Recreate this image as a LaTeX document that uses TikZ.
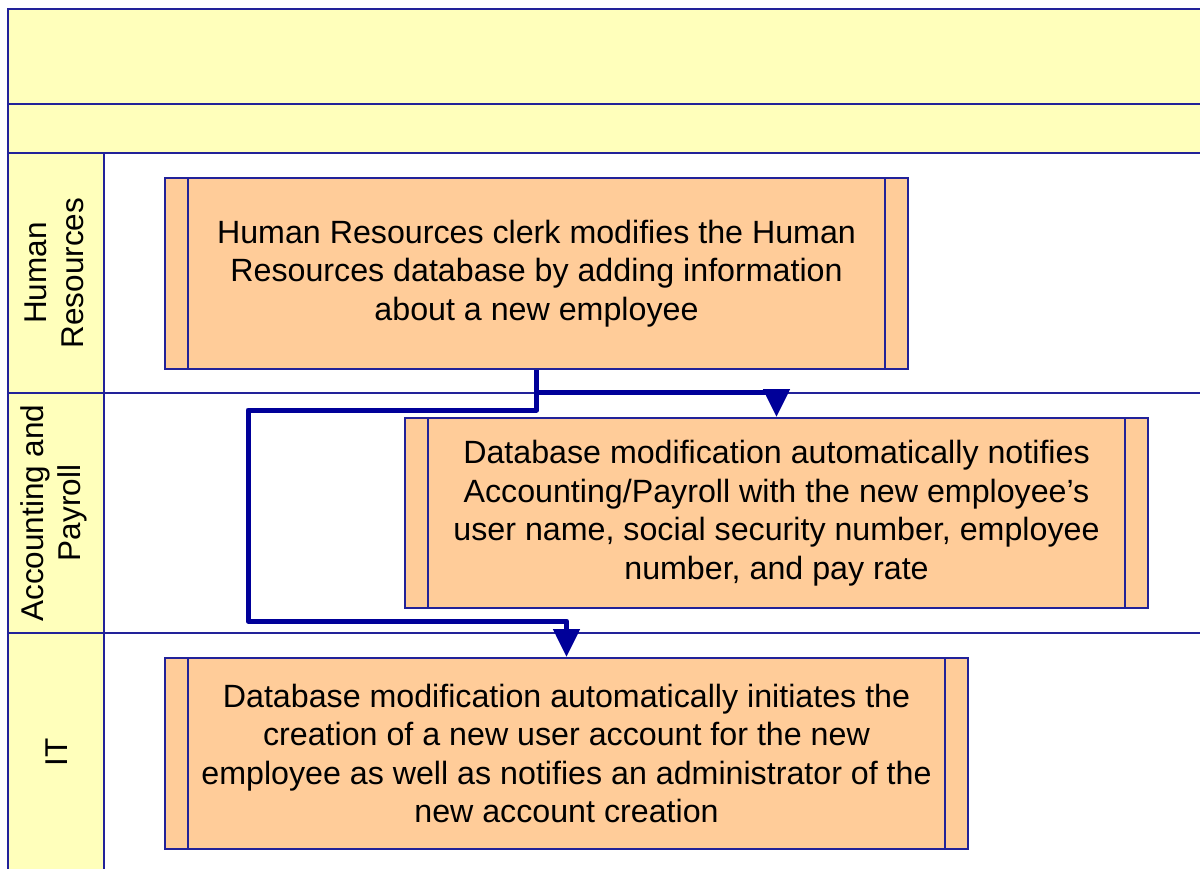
\documentclass[tikz,border=0pt]{standalone}
\usepackage{fontspec}
\setmainfont{Liberation Sans}
\usetikzlibrary{arrows.meta}
\definecolor{lanefill}{RGB}{255,255,187}
\definecolor{procfill}{RGB}{255,204,153}
\definecolor{laneline}{RGB}{34,34,153}
\definecolor{flowline}{RGB}{0,0,153}
\tikzset{
  laneborder/.style={draw=laneline, line width=2pt},
  lanelabel/.style={rotate=90, align=center, inner sep=0pt,
    font=\fontsize{31.5}{37}\selectfont},
  procbox/.style={draw=laneline, line width=2pt, fill=procfill, inner sep=0pt,
    align=center, font=\fontsize{32.2}{38.5}\selectfont,
    path picture={
      \draw[laneline, line width=2pt]
        ([xshift=23pt]path picture bounding box.north west) --
        ([xshift=23pt]path picture bounding box.south west)
        ([xshift=-23pt]path picture bounding box.north east) --
        ([xshift=-23pt]path picture bounding box.south east);}},
  flow/.style={draw=flowline, line width=5pt, line join=round,
    -{Triangle[length=28pt, width=26pt]}}
}
\begin{document}
\begin{tikzpicture}[x=1pt, y=-1pt]
\useasboundingbox (0,0) rectangle (1200,869);
\clip (0,0) rectangle (1200,869);
\fill[white] (0,0) rectangle (1200,869);

% pool header bands and lane label column
\fill[lanefill] (8,9) rectangle (1210,153);
\fill[lanefill] (8,153) rectangle (104,880);
\draw[laneborder] (1210,9) -- (8,9) -- (8,880);
\draw[laneborder] (8,104) -- (1210,104);
\draw[laneborder] (8,153) -- (1210,153);
\draw[laneborder] (8,393) -- (1210,393);
\draw[laneborder] (8,633) -- (1210,633);
\draw[laneborder] (104,153) -- (104,880);

% lane titles
\node[lanelabel] (hr) at (54,273) {Human\\Resources};
\node[lanelabel] (ap) at (54,513) {Accounting and\\Payroll};
\node[lanelabel] (it) at (57,752) {IT};

% process steps
\node[procbox, minimum width=743pt, minimum height=191pt] (b1) at (536.5,273.5)
  {Human Resources clerk modifies the Human\\Resources database by adding information\\about a new employee};
\node[procbox, minimum width=743pt, minimum height=190pt] (b2) at (776.5,513)
  {Database modification automatically notifies\\Accounting/Payroll with the new employee's\\user name, social security number, employee\\number, and pay rate};
\node[procbox, minimum width=803pt, minimum height=191pt] (b3) at (566.5,753.5)
  {Database modification automatically initiates the\\creation of a new user account for the new\\employee as well as notifies an administrator of the\\new account creation};

% sequence flows
\coordinate (detour) at (248,621);
\draw[flow] (b1.south) -- ++(0,22) -| (b2.north);
\draw[flow] (b1.south) -- ++(0,40) -| (detour) -| (b3.north);
\end{tikzpicture}
\end{document}
